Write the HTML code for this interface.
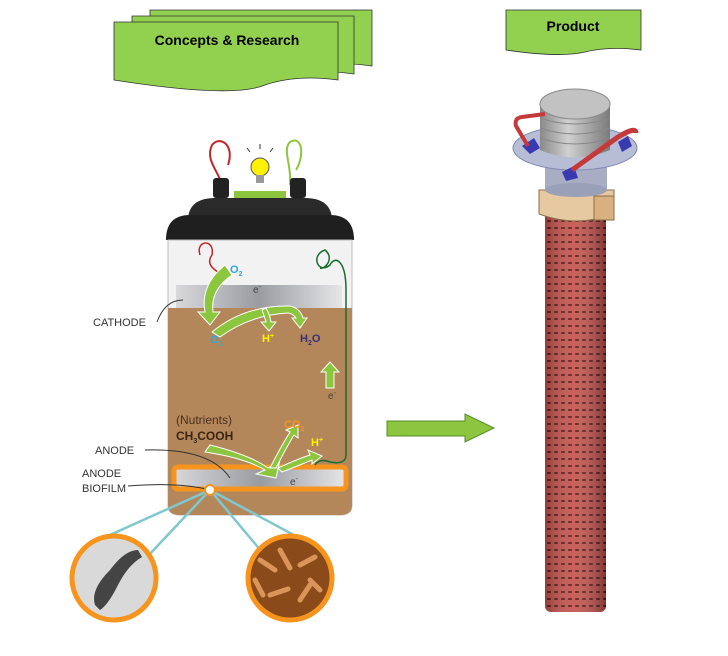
<!DOCTYPE html><html><head><style>body{margin:0;background:#fff}svg{display:block}text{font-family:"Liberation Sans",sans-serif}</style></head><body>
<svg width="728" height="656" viewBox="0 0 728 656">
<defs>
<pattern id="holes" width="7" height="7" patternUnits="userSpaceOnUse"><rect width="7" height="7" fill="#c4524c"/><rect x="1" y="3" width="4" height="2" rx="1" fill="#5a1c1a"/></pattern>
<linearGradient id="cyl" x1="0" x2="1"><stop offset="0" stop-color="#000" stop-opacity=".25"/><stop offset=".45" stop-color="#fff" stop-opacity=".08"/><stop offset="1" stop-color="#000" stop-opacity=".35"/></linearGradient>
<linearGradient id="bar" x1="0" x2="1"><stop offset="0" stop-color="#d8d8da"/><stop offset=".5" stop-color="#9a9ca2"/><stop offset="1" stop-color="#e6e6e8"/></linearGradient>
<linearGradient id="can" x1="0" x2="1"><stop offset="0" stop-color="#8a8a8a"/><stop offset=".4" stop-color="#d0d0d0"/><stop offset="1" stop-color="#7a7a7a"/></linearGradient>
<clipPath id="c1"><circle cx="114" cy="578" r="40"/></clipPath>
<clipPath id="c2"><circle cx="290" cy="578" r="40"/></clipPath>
</defs>
<!-- flags -->
<path d="M150 10H372V66Q330 60 300 70T150 66Z" fill="#92d050" stroke="#333" stroke-width=".8"/>
<path d="M132 16H354V74Q312 68 282 78T132 74Z" fill="#92d050" stroke="#333" stroke-width=".8"/>
<path d="M114 22H338V80Q295 74 262 86T114 80Z" fill="#92d050" stroke="#333" stroke-width=".8"/>
<text x="227" y="45" font-size="14" font-weight="bold" text-anchor="middle">Concepts &amp; Research</text>
<path d="M506 10H641V50Q610 46 585 52T506 50Z" fill="#92d050" stroke="#333" stroke-width=".8"/>
<text x="573" y="31" font-size="14" font-weight="bold" text-anchor="middle">Product</text>
<!-- wires top -->
<path d="M222 185C218 170 205 160 212 145C220 135 235 145 228 165" fill="none" stroke="#c0272d" stroke-width="2"/>
<path d="M290 185C292 165 282 150 290 142C302 135 305 155 296 170" fill="none" stroke="#8cc63f" stroke-width="2"/>
<circle cx="260" cy="167" r="9" fill="#fff200" stroke="#555" stroke-width="1"/>
<rect x="256" y="175" width="8" height="8" fill="#999"/>
<path d="M250 152l-3-4M260 149v-5M270 152l3-4" stroke="#333"/>
<rect x="213" y="178" width="16" height="20" rx="3" fill="#222"/>
<rect x="290" y="178" width="16" height="20" rx="3" fill="#222"/>
<rect x="234" y="191" width="52" height="7" fill="#8cc63f"/>
<!-- lid -->
<path d="M188 218Q190 198 215 198H305Q330 198 332 218Z" fill="#2a2a2a"/>
<path d="M166 240Q166 215 190 215H330Q354 215 354 240Z" fill="#1f1f1f"/>
<!-- jar -->
<path d="M168 240H352V505Q352 515 340 515H180Q168 515 168 505Z" fill="#f2f2f2" stroke="#bbb"/>
<path d="M168 308H352V505Q352 515 340 515H180Q168 515 168 505Z" fill="#b3875a"/>
<rect x="176" y="285" width="166" height="23" fill="url(#bar)"/>
<rect x="174" y="467" width="172" height="22" rx="4" fill="url(#bar)" stroke="#f7941d" stroke-width="5"/>
<!-- inner wires -->
<path d="M200 255C195 240 215 238 212 255C205 265 215 270 222 275" fill="none" stroke="#c0272d" stroke-width="1.5"/>
<path d="M346 290C346 260 335 255 330 265C318 275 310 255 325 250C335 258 325 270 320 268" fill="none" stroke="#1a6b2e" stroke-width="1.5"/>
<path d="M346 290V455Q346 465 330 462Q320 458 315 465" fill="none" stroke="#1a6b2e" stroke-width="1.5"/>
<!-- green arrows -->
<g fill="#8cc63f" stroke="#fff" stroke-width="1">
<path d="M225 265Q200 285 205 312L198 312L210 325L220 312L213 312Q210 290 232 275Z"/>
<path d="M212 332Q245 305 290 306Q300 308 303 318L307 318L300 328L292 318L296 318Q292 313 288 313Q250 315 220 337Z"/>
<path d="M262 310Q265 318 266 322L261 322L269 331L276 322L271 322Q270 315 266 308Z"/>
<path d="M326 388V372H321L330 362L339 372H334V388Z"/>
<path d="M210 445Q250 455 268 468L280 460L276 478L256 474L265 470Q245 458 205 452Z"/>
<path d="M270 468Q280 448 290 432L286 430L298 425L298 438L294 435Q285 450 276 468Z"/>
<path d="M278 468Q300 458 310 455L308 450L322 456L312 464L312 460Q300 465 282 472Z"/>
</g>
<g font-size="11" font-weight="bold">
<text x="230" y="273" fill="#29a8e0">O<tspan font-size="7" dy="3">2</tspan></text>
<text x="210" y="343" fill="#29a8e0">O<tspan font-size="7" dy="3">2</tspan></text>
<text x="262" y="342" fill="#fff200">H<tspan font-size="7" dy="-4">+</tspan></text>
<text x="300" y="342" fill="#3a2f7a">H<tspan font-size="7" dy="3">2</tspan><tspan dy="-3">O</tspan></text>
<text x="284" y="428" fill="#f7941d">CO<tspan font-size="7" dy="3">2</tspan></text>
<text x="311" y="446" fill="#fff200">H<tspan font-size="7" dy="-4">+</tspan></text>
<text x="176" y="440" fill="#3a2414" font-size="12">CH<tspan font-size="7" dy="3">3</tspan><tspan dy="-3">COOH</tspan></text>
</g>
<text x="176" y="424" fill="#4a3020" font-size="12">(Nutrients)</text>
<text x="253" y="293" fill="#444" font-size="10">e<tspan font-size="7" dy="-4">-</tspan></text>
<text x="328" y="399" fill="#444" font-size="10">e<tspan font-size="7" dy="-4">-</tspan></text>
<text x="290" y="485" fill="#444" font-size="10">e<tspan font-size="7" dy="-4">-</tspan></text>
<!-- labels -->
<g font-size="11" fill="#333">
<text x="93" y="326">CATHODE</text>
<text x="95" y="454">ANODE</text>
<text x="82" y="477">ANODE</text>
<text x="82" y="492">BIOFILM</text>
</g>
<g fill="none" stroke="#333" stroke-width="1">
<path d="M157 322Q165 300 183 300"/>
<path d="M145 450Q210 448 230 478"/>
<path d="M128 486Q180 482 210 490"/>
</g>
<!-- teal lines & circles -->
<g fill="none" stroke="#7fc8d0" stroke-width="2.5">
<path d="M210 490L92 543M210 490L148 556M210 490L262 552M210 490L318 548"/>
</g>
<circle cx="210" cy="490" r="5" fill="#fff" stroke="#f7941d" stroke-width="2"/>
<circle cx="114" cy="578" r="42" fill="#d9d9d9" stroke="#f7941d" stroke-width="5"/>
<g clip-path="url(#c1)"><path d="M95 605Q90 590 110 570Q125 550 138 550L142 557Q128 565 118 585Q108 605 100 610Z" fill="#444"/></g>
<circle cx="290" cy="578" r="42" fill="#8a4a1a" stroke="#f7941d" stroke-width="5"/>
<g clip-path="url(#c2)" stroke="#d9955a" stroke-width="5" stroke-linecap="round"><path d="M260 560l15 10M280 550l10 18M300 565l15-8M270 595l18-6M300 600l10-15M255 580l8 15M310 580l10 10"/></g>
<!-- arrow -->
<path d="M387 421H465V414L494 428L465 442V436H387Z" fill="#8cc63f" stroke="#5c8a2a"/>
<!-- product -->
<rect x="545" y="208" width="61" height="404" rx="6" fill="url(#holes)"/>
<rect x="545" y="208" width="61" height="404" rx="6" fill="url(#cyl)"/>
<path d="M539 190H614V214Q576 228 539 214Z" fill="#e6c9a0" stroke="#8a6e4a"/>
<rect x="594" y="196" width="20" height="24" fill="#d9b080" stroke="#8a6e4a"/>
<rect x="545" y="160" width="62" height="30" fill="#a8adc4"/>
<ellipse cx="576" cy="190" rx="31" ry="7" fill="#9aa0b8"/>
<ellipse cx="575" cy="148" rx="62" ry="22" fill="#b8bdd6" stroke="#8088b0"/>
<path d="M540 105V150Q575 165 610 150V105Z" fill="url(#can)"/>
<g stroke="#888" fill="none"><path d="M540 118Q575 130 610 118M540 128Q575 140 610 128M540 138Q575 150 610 138"/></g>
<ellipse cx="575" cy="104" rx="35" ry="15" fill="#c2c2c2" stroke="#8a8a8a"/>
<g fill="#3a3ab0"><path d="M522 146l12-8 6 10-10 6Z"/><path d="M562 172l12-6 4 12-12 3Z"/><path d="M618 142l10-6 4 10-10 6Z"/></g>
<path d="M528 146L516 126Q514 118 522 117L545 114" fill="none" stroke="#c43a3a" stroke-width="4"/>
<path d="M572 170L618 137Q636 126 636 133" fill="none" stroke="#c43a3a" stroke-width="5"/>
</svg>
</body></html>
